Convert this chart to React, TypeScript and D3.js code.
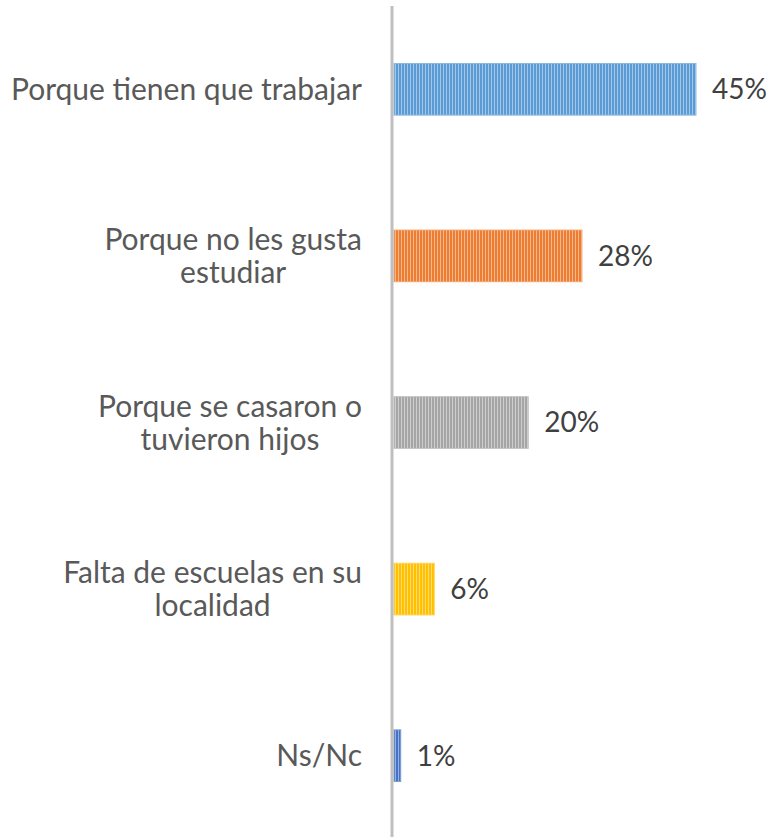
import * as d3 from 'd3'

const categories = [
  'Porque tienen que trabajar',
  'Porque no les gusta estudiar',
  'Porque se casaron o tuvieron hijos',
  'Falta de escuelas en su localidad',
  'Ns/Nc',
]
const labelLines = [
  ['Porque tienen que trabajar'],
  ['Porque no les gusta', 'estudiar'],
  ['Porque se casaron o', 'tuvieron hijos'],
  ['Falta de escuelas en su', 'localidad'],
  ['Ns/Nc'],
]
const values = [45, 28, 20, 6, 1]
const colors = ['#5B9BD5', '#ED7D31', '#A5A5A5', '#FFC000', '#4472C4']

const W = 769
const H = 837
const x0 = 394
const fontSize = 30
const font = "Lato, 'Noto Sans', sans-serif"

// measure text widths so multi-line labels can be centred on each other
const ctx = document.createElement('canvas').getContext('2d')!
ctx.font = `${fontSize}px Lato`
const measure = (s: string) => ctx.measureText(s).width

const App = () => {
  const y = d3.scaleBand<string>().domain(categories).range([6, 839]).paddingInner(0.69).paddingOuter(0.345)
  const x = d3.scaleLinear().domain([0, 45]).range([x0, 696])

  return (
    <svg width={W} height={H} style={{ position: 'absolute', left: 0, top: 0, background: '#fff' }}>
      <defs>
        {colors.map((c, i) => (
          <pattern key={i} id={`stripe${i}`} width={3} height={10} patternUnits="userSpaceOnUse">
            <rect width={3} height={10} fill={d3.interpolateRgb(c, '#fff')(0.45)} />
            <rect width={2} height={10} fill={c} />
          </pattern>
        ))}
      </defs>
      {categories.map((cat, i) => {
        const yy = y(cat)!
        const bw = y.bandwidth()
        const cy = yy + bw / 2
        const lines = labelLines[i]
        const maxW = d3.max(lines, measure)!
        const cx = 362 - maxW / 2
        return (
          <g key={cat}>
            <rect
              x={x0}
              y={yy}
              width={x(values[i]) - x0}
              height={bw}
              fill={`url(#stripe${i})`}
              stroke={d3.interpolateRgb(colors[i], '#fff')(0.3)}
              strokeWidth={1}
            />
            <text
              x={x(values[i]) + 16}
              y={cy}
              dy="0.35em"
              fontFamily={font}
              fontSize={28}
              fill="#404040"
            >
              {values[i]}%
            </text>
            {lines.map((l, j) => (
              <text
                key={j}
                x={cx}
                y={cy + (j - (lines.length - 1) / 2) * 33}
                dy="0.35em"
                textAnchor="middle"
                fontFamily={font}
                fontSize={fontSize}
                fill="#595959"
              >
                {l}
              </text>
            ))}
          </g>
        )
      })}
      <line x1={392} x2={392} y1={6} y2={H} stroke="#BFBFBF" strokeWidth={3} />
    </svg>
  )
}

export default App
